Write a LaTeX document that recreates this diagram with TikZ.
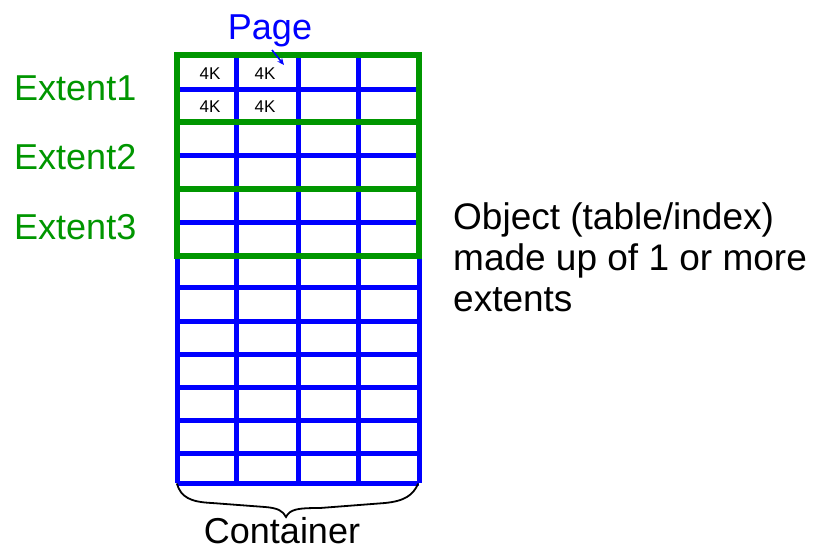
\documentclass[tikz,border=0pt]{standalone}
\usepackage{fontspec}
\setmainfont{Liberation Sans}
\usetikzlibrary{arrows.meta}
\definecolor{extgreen}{RGB}{0,150,0}
\definecolor{pageblue}{RGB}{0,0,255}
\tikzset{
  gridline/.style={draw=pageblue,line width=5pt},
  extentbox/.style={draw=extgreen,line width=5.5pt},
  extlabel/.style={text=extgreen,anchor=base west,inner sep=0pt,font=\fontsize{36}{40}\selectfont},
  cell/.style={anchor=base,inner sep=0pt,font=\fontsize{17}{19}\selectfont},
  bigtext/.style={inner sep=0pt,font=\fontsize{37}{41}\selectfont},
}
\begin{document}
\begin{tikzpicture}[x=1pt,y=-1pt]
\useasboundingbox (0,0) rectangle (817,554);
% blue grid
\foreach \yy in {55,89,122,155,189,222,256,287,321,354,387,420,453,483}
  \draw[gridline] (177,\yy) -- (419,\yy);
\foreach \xx in {177,236,298,358,419}
  \draw[gridline] (\xx,55) -- (\xx,483);
% extents
\draw[extentbox] (177,55) rectangle (419,122);
\draw[extentbox] (177,122) rectangle (419,189);
\draw[extentbox] (177,189) rectangle (419,256);
% cell labels
\node[cell] (c11) at (210,79) {4K};
\node[cell] (c12) at (265,79) {4K};
\node[cell] (c21) at (210,112) {4K};
\node[cell] (c22) at (265,112) {4K};
% extent labels
\node[extlabel] (e1) at (14,100) {Extent1};
\node[extlabel] (e2) at (14,169.5) {Extent2};
\node[extlabel] (e3) at (14,239) {Extent3};
% page label and arrow
\node[bigtext,text=pageblue,anchor=base,font=\fontsize{36}{40}\selectfont] (page) at (270,39) {Page};
\coordinate (pstart) at (272,50);
\coordinate (pend) at (284,65);
\draw[pageblue,line width=1.5pt,-{Stealth[length=7pt,width=6pt]}] (pstart) -- (pend);
% object text
\node[bigtext,anchor=base west,align=left] (obj) at (453,311) {Object (table/index)\\made up of 1 or more\\extents};
% brace
\coordinate (bl) at (177,484);
\coordinate (br) at (418,484);
\coordinate (tip) at (286,517);
\draw[black,line width=1.8pt,line cap=round] (bl) .. controls (181,497) and (190,502) .. (212,503)
  -- (265,507) .. controls (278,508) and (283,511) .. (tip)
  .. controls (290,509) and (298,508) .. (320,508)
  -- (385,503) .. controls (405,501) and (413,495) .. (br);
% container
\node[bigtext,anchor=base,font=\fontsize{36}{40}\selectfont] (cont) at (282,543) {Container};
\end{tikzpicture}
\end{document}
